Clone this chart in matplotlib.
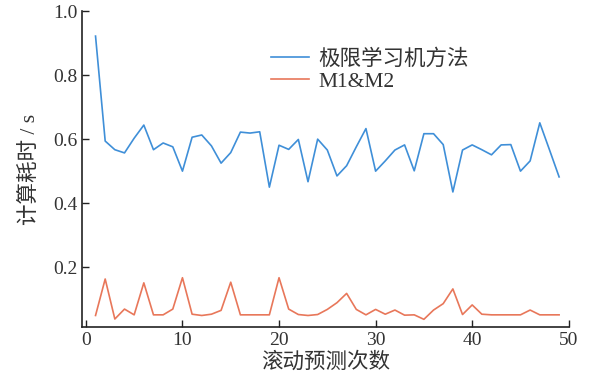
import matplotlib
matplotlib.use("Agg")
import matplotlib.pyplot as plt

# Rolling prediction index
runs = list(range(1, 50))

# Computation time (s) of the extreme learning machine method
elm_time = [0.922, 0.594, 0.567, 0.557, 0.603, 0.644, 0.567, 0.588, 0.576, 0.500,
            0.606, 0.613, 0.579, 0.525, 0.558, 0.622, 0.619, 0.623, 0.450, 0.581,
            0.568, 0.599, 0.467, 0.600, 0.566, 0.485, 0.517, 0.576, 0.633, 0.500,
            0.532, 0.566, 0.582, 0.501, 0.617, 0.617, 0.583, 0.435, 0.566, 0.582,
            0.567, 0.551, 0.582, 0.583, 0.500, 0.532, 0.651, 0.567, 0.482]

# Computation time (s) of M1&M2
m1m2_time = [0.049, 0.163, 0.038, 0.069, 0.051, 0.151, 0.051, 0.051, 0.069, 0.167,
             0.053, 0.049, 0.053, 0.065, 0.153, 0.051, 0.051, 0.051, 0.051, 0.167,
             0.069, 0.052, 0.049, 0.052, 0.068, 0.089, 0.118, 0.068, 0.051, 0.068,
             0.053, 0.066, 0.050, 0.051, 0.037, 0.066, 0.086, 0.132, 0.052, 0.082,
             0.053, 0.051, 0.051, 0.051, 0.051, 0.066, 0.051, 0.051, 0.051]

x_ticks = [0, 10, 20, 30, 40, 50]
y_ticks = [0.2, 0.4, 0.6, 0.8, 1.0]

fam = ["Liberation Serif", "Noto Sans CJK SC"]
plt.rcParams["font.family"] = fam
plt.rcParams["font.size"] = 13

fig = plt.figure(figsize=(5.9, 3.84), dpi=100)
ax = fig.add_axes([0.139, 0.148, 0.825, 0.823])

ax.plot(runs, elm_time, color="#3f8fd8", lw=1.2, label="极限学习机方法")
ax.plot(runs, m1m2_time, color="#e8775a", lw=1.2, label="M1&M2")

ax.set_xlim(-0.4, 50)
ax.set_ylim(0.0125, 1.0)
ax.set_xticks(x_ticks)
ax.set_yticks(y_ticks)
ax.set_yticklabels([f"{v:.1f}" for v in y_ticks])

for side in ("top", "right"):
    ax.spines[side].set_visible(False)
for side in ("left", "bottom"):
    ax.spines[side].set_linewidth(1.2)
    ax.spines[side].set_color("#222222")

ax.tick_params(direction="in", length=5, width=1.0, colors="#222222",
               labelcolor="#333333", labelsize=14)

ax.set_xlabel("滚动预测次数", fontsize=15.5, color="#333333", labelpad=2)
ax.set_ylabel("计算耗时 / s", fontsize=15.5, color="#333333", labelpad=9)

leg = ax.legend(loc="upper left", bbox_to_anchor=(0.388, 0.88), frameon=False,
                fontsize=15.5, handlelength=1.77, handletextpad=0.42,
                labelspacing=0.1, borderaxespad=0, borderpad=0)
for t in leg.get_texts():
    t.set_color("#333333")

fig.savefig("out.png", dpi=100)
